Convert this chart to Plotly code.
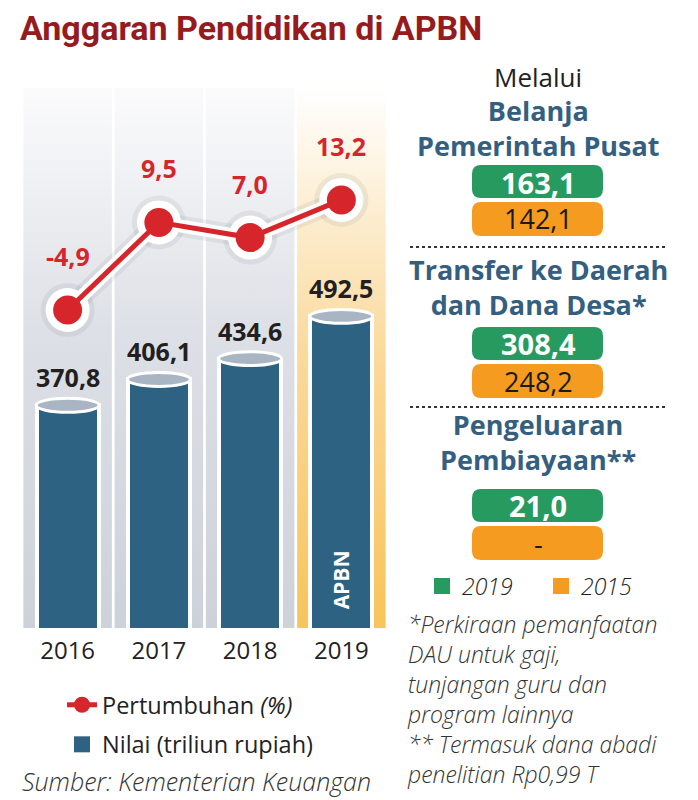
import plotly.graph_objects as go

# ---------------- data ----------------
years = ["2016", "2017", "2018", "2019"]
nilai = [370.8, 406.1, 434.6, 492.5]          # triliun rupiah
pertumbuhan = [-4.9, 9.5, 7.0, 13.2]          # %
bar_notes = ["", "", "", "APBN"]

channels = ["Belanja<br>Pemerintah Pusat",
            "Transfer ke Daerah<br>dan Dana Desa*",
            "Pengeluaran<br>Pembiayaan**"]
channel_2019 = [163.1, 308.4, 21.0]
channel_2015 = [142.1, 248.2, None]
period_labels = ["2019", "2015"]

footnote_lines = ["*Perkiraan pemanfaatan", "DAU untuk gaji,", "tunjangan guru dan",
                  "program lainnya", "** Termasuk dana abadi", "penelitian Rp0,99 T"]
title_text = "Anggaran Pendidikan di APBN"
source_text = "Sumber: Kementerian Keuangan"

# ---------------- style ----------------
W, H = 698, 800
BAR_C = "#2e6282"
RED = "#d7252c"
HEAD_C = "#345f80"
GREEN = "#279a5f"
ORANGE = "#f49b20"
FONT = "Open Sans"


def px(x):
    return x / W


def py(y):
    return 1 - y / H


def fmt(v):
    return "-" if v is None else f"{v:.1f}".replace(".", ",")


xs = list(range(len(years)))
fig = go.Figure()

# column backgrounds (gradients)
for i in xs:
    scale = ([[0, "#f7c45a"], [0.5, "#fad99a"], [1, "#ffffff"]] if i == len(xs) - 1
             else [[0, "#cdd1d9"], [0.55, "#dde0e6"], [1, "#fbfbfc"]])
    fig.add_trace(go.Scatter(
        x=[i - 0.485, i + 0.485, i + 0.485, i - 0.485, i - 0.485],
        y=[0, 0, 1, 1, 0], mode="lines", fill="toself",
        fillgradient=dict(type="vertical", colorscale=scale),
        line=dict(width=0), hoverinfo="skip", showlegend=False, yaxis="y"))

# bars
fig.add_trace(go.Bar(
    x=xs, y=nilai, yaxis="y2", width=0.68, name="Nilai (triliun rupiah)",
    marker=dict(color=BAR_C, line=dict(color="white", width=4)),
    showlegend=False, hoverinfo="skip"))

# growth line: shadow, white halo, red line
fig.add_trace(go.Scatter(
    x=xs, y=pertumbuhan, yaxis="y3", mode="lines+markers",
    line=dict(color="rgba(100,105,120,0.10)", width=21),
    marker=dict(color="rgba(100,105,120,0.10)", size=54),
    showlegend=False, hoverinfo="skip"))
fig.add_trace(go.Scatter(
    x=xs, y=pertumbuhan, yaxis="y3", mode="lines+markers",
    line=dict(color="white", width=13),
    marker=dict(color="white", size=44),
    showlegend=False, hoverinfo="skip"))
fig.add_trace(go.Scatter(
    x=xs, y=pertumbuhan, yaxis="y3", mode="lines+markers",
    line=dict(color=RED, width=5),
    marker=dict(color=RED, size=29),
    name="Pertumbuhan <i>(%)</i>", legendgroup="a", showlegend=True, hoverinfo="skip"))

# legend entry for bars
fig.add_trace(go.Scatter(
    x=[None], y=[None], yaxis="y2", mode="markers",
    marker=dict(symbol="square", color=BAR_C, size=20),
    name="Nilai (triliun rupiah)", legendgroup="b", showlegend=True))

# legend 2 entries
for lab, col in zip(period_labels, [GREEN, ORANGE]):
    fig.add_trace(go.Scatter(
        x=[None], y=[None], yaxis="y2", mode="markers",
        marker=dict(symbol="square", color=col, size=20),
        name=lab, legend="legend2", showlegend=True))

shapes = []
annotations = []

# cylinder tops + labels
for i, v in enumerate(nilai):
    shapes.append(dict(type="circle", xref="x", yref="y2",
                       x0=i - 0.345, x1=i + 0.345, y0=v - 9.5, y1=v + 9.5,
                       fillcolor="#aab5c3", line=dict(color="white", width=3)))
    annotations.append(dict(x=i, y=v, xref="x", yref="y2", yshift=28,
                            xanchor="center", yanchor="middle",
                            text=fmt(v), showarrow=False,
                            font=dict(family=FONT, size=25, color="#231f20", weight="bold")))
    if bar_notes[i]:
        annotations.append(dict(x=i, y=py(580), xref="x", yref="paper",
                                xanchor="center", yanchor="middle",
                                text=bar_notes[i], textangle=-90, showarrow=False,
                                font=dict(family=FONT, size=21, color="white", weight="bold")))

for i, v in enumerate(pertumbuhan):
    annotations.append(dict(x=i, y=v, xref="x", yref="y3", yshift=54,
                            xanchor="center", yanchor="middle",
                            text=fmt(v), showarrow=False,
                            font=dict(family=FONT, size=25, color=RED, weight="bold")))

# right panel
CX = 538
annotations.append(dict(x=px(CX), y=py(77), xref="paper", yref="paper", text="Melalui",
                        xanchor="center", yanchor="middle",
                        showarrow=False, font=dict(family=FONT, size=26, color="#222222")))

head_y = [128, 287, 442]
green_top = [165, 327, 489]
sep_y = [247, 407]


def pill(x0, y0, x1, y1, r):
    pts = [("M", x0 + r, y0), ("L", x1 - r, y0), ("Q", x1, y0, x1, y0 + r),
           ("L", x1, y1 - r), ("Q", x1, y1, x1 - r, y1), ("L", x0 + r, y1),
           ("Q", x0, y1, x0, y1 - r), ("L", x0, y0 + r), ("Q", x0, y0, x0 + r, y0)]
    out = []
    for p in pts:
        cmd = p[0]
        coords = p[1:]
        s = []
        for k in range(0, len(coords), 2):
            s.append(f"{px(coords[k]):.5f},{py(coords[k + 1]):.5f}")
        out.append(cmd + " " + " ".join(s))
    return " ".join(out) + " Z"


for k, name in enumerate(channels):
    annotations.append(dict(x=px(CX), y=py(head_y[k]), xref="paper", yref="paper",
                            xanchor="center", yanchor="middle",
                            text=name, showarrow=False, align="center",
                            font=dict(family=FONT, size=27, color=HEAD_C, weight="bold")))
    gt = green_top[k]
    shapes.append(dict(type="path", xref="paper", yref="paper",
                       path=pill(472, gt, 603, gt + 33, 9), fillcolor=GREEN, line=dict(width=0)))
    shapes.append(dict(type="path", xref="paper", yref="paper",
                       path=pill(472, gt + 37, 603, gt + 71, 9), fillcolor=ORANGE, line=dict(width=0)))
    annotations.append(dict(x=px(CX), y=py(gt + 17), xref="paper", yref="paper",
                            xanchor="center", yanchor="middle",
                            text=fmt(channel_2019[k]), showarrow=False,
                            font=dict(family=FONT, size=29, color="white", weight="bold")))
    annotations.append(dict(x=px(CX), y=py(gt + 54), xref="paper", yref="paper",
                            xanchor="center", yanchor="middle",
                            text=fmt(channel_2015[k]), showarrow=False,
                            font=dict(family=FONT, size=27, color="#1a1a1a")))

for sy in sep_y:
    shapes.append(dict(type="line", xref="paper", yref="paper",
                       x0=px(410), x1=px(665), y0=py(sy), y1=py(sy),
                       line=dict(color="#333333", width=2, dash="dot")))

annotations.append(dict(x=px(405), y=py(606), xref="paper", yref="paper",
                        xanchor="left", yanchor="top", align="left",
                        text="<br>".join(footnote_lines), showarrow=False,
                        font=dict(family=FONT, size=23, color="#333333",
                                  style="italic", weight=300)))
annotations.append(dict(x=px(20), y=py(781), xref="paper", yref="paper",
                        xanchor="left", yanchor="middle", text=source_text, showarrow=False,
                        font=dict(family=FONT, size=25, color="#333333",
                                  style="italic", weight=300)))

fig.update_layout(
    width=W, height=H, margin=dict(l=0, r=0, t=0, b=0),
    paper_bgcolor="white", plot_bgcolor="rgba(0,0,0,0)",
    title=dict(text=title_text, x=px(20), xanchor="left", y=py(28), yanchor="middle",
               font=dict(family="Roboto, sans-serif",
                         size=34, color="#961b1e", weight="bold")),
    xaxis=dict(domain=[px(22), px(387)], range=[-0.5, 3.5], tickvals=xs, ticktext=years,
               showgrid=False, zeroline=False, showline=False, ticks="",
               ticklabelstandoff=6,
               tickfont=dict(family=FONT, size=24, color="#222222"), fixedrange=True),
    yaxis=dict(domain=[py(628), py(88)], range=[0, 1], visible=False, fixedrange=True),
    yaxis2=dict(overlaying="y", range=[66, 805], visible=False, fixedrange=True),
    yaxis3=dict(overlaying="y", range=[-57.2, 31.6], visible=False, fixedrange=True),
    legend=dict(x=px(62), y=py(683), xanchor="left", yanchor="top",
                bgcolor="rgba(0,0,0,0)", tracegroupgap=6, itemwidth=30,
                font=dict(family=FONT, size=23.5, color="#222222")),
    legend2=dict(orientation="h", x=px(422), y=py(586), xanchor="left", yanchor="middle",
                 bgcolor="rgba(0,0,0,0)", itemwidth=30, entrywidth=74,
                 font=dict(family=FONT, size=23, color="#222222", style="italic", weight=300)),
    shapes=shapes, annotations=annotations, showlegend=True,
    bargap=0, hovermode=False,
)

fig.write_html("out.html", config={"displayModeBar": False},
               post_script="document.body.style.margin='0';document.body.style.padding='0';")
